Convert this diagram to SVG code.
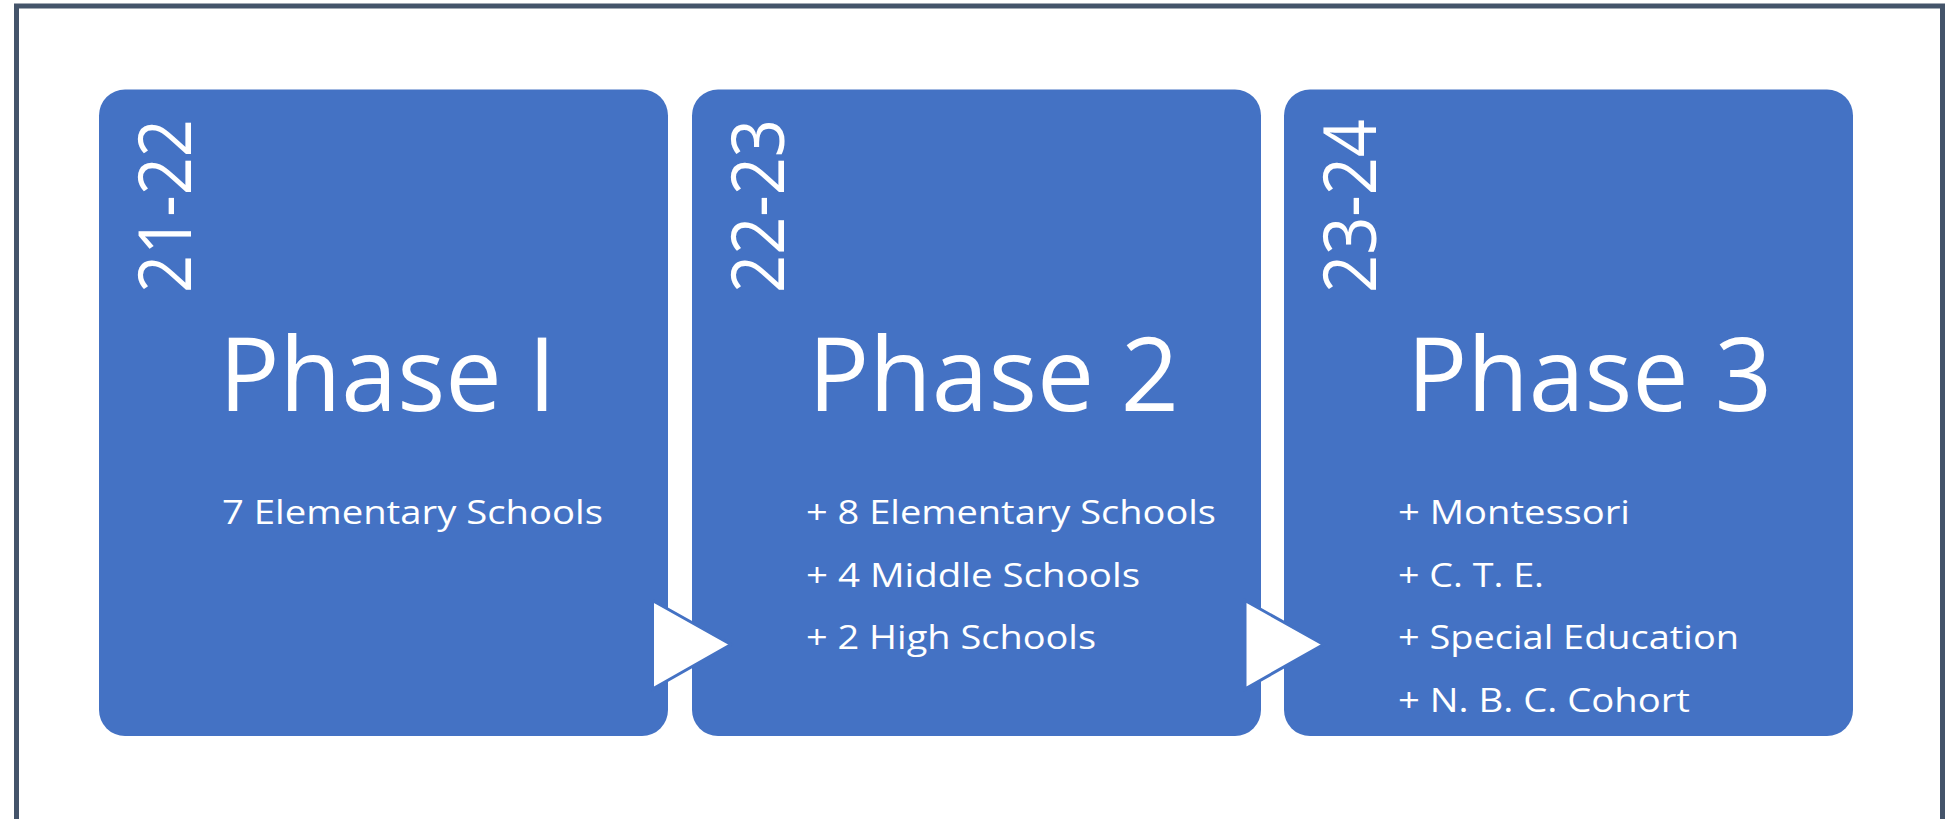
<svg xmlns="http://www.w3.org/2000/svg" width="1956" height="819" viewBox="0 0 1956 819">
  <style>
    .box { fill: #4472c4; }
    .year { fill: #ffffff; font-family: "Open Sans", "Noto Sans", sans-serif; font-size: 74px; }
    .title { fill: #ffffff; font-family: "Open Sans", "Noto Sans", sans-serif; font-size: 103px; text-anchor: middle; }
    .item { fill: #ffffff; font-family: "Open Sans", "Noto Sans", sans-serif; font-size: 32.5px; }
    .arrow { fill: #ffffff; stroke: #4472c4; stroke-width: 3; stroke-linejoin: miter; }
  </style>
  <rect x="0" y="0" width="1956" height="819" fill="#ffffff"/>
  <rect x="16.5" y="6" width="1926" height="900" fill="none" stroke="#44546a" stroke-width="5"/>

  <g id="phase1">
    <rect class="box" x="99" y="89.5" width="569" height="646.5" rx="26" ry="26"/>
    <text class="year" transform="translate(191,293) rotate(-90)" textLength="174" lengthAdjust="spacingAndGlyphs">21-22</text>
    <text class="title" x="387.5" y="411" textLength="337" lengthAdjust="spacingAndGlyphs">Phase I</text>
    <text class="item" x="222" y="524" textLength="381" lengthAdjust="spacingAndGlyphs">7 Elementary Schools</text>
  </g>

  <g id="phase2">
    <rect class="box" x="692" y="89.5" width="569" height="646.5" rx="26" ry="26"/>
    <text class="year" transform="translate(784,293) rotate(-90)" textLength="174" lengthAdjust="spacingAndGlyphs">22-23</text>
    <text class="title" x="993.5" y="411" textLength="371" lengthAdjust="spacingAndGlyphs">Phase 2</text>
    <text class="item" x="806" y="524" textLength="410" lengthAdjust="spacingAndGlyphs">+ 8 Elementary Schools</text>
    <text class="item" x="806" y="586.5" textLength="334" lengthAdjust="spacingAndGlyphs">+ 4 Middle Schools</text>
    <text class="item" x="806" y="649" textLength="290" lengthAdjust="spacingAndGlyphs">+ 2 High Schools</text>
  </g>

  <g id="phase3">
    <rect class="box" x="1284" y="89.5" width="569" height="646.5" rx="26" ry="26"/>
    <text class="year" transform="translate(1376,293) rotate(-90)" textLength="174" lengthAdjust="spacingAndGlyphs">23-24</text>
    <text class="title" x="1589.5" y="411" textLength="365" lengthAdjust="spacingAndGlyphs">Phase 3</text>
    <text class="item" x="1398" y="524" textLength="232" lengthAdjust="spacingAndGlyphs">+ Montessori</text>
    <text class="item" x="1398" y="586.5" textLength="146" lengthAdjust="spacingAndGlyphs">+ C. T. E.</text>
    <text class="item" x="1398" y="649" textLength="341" lengthAdjust="spacingAndGlyphs">+ Special Education</text>
    <text class="item" x="1398" y="712" textLength="292" lengthAdjust="spacingAndGlyphs">+ N. B. C. Cohort</text>
  </g>

  <g id="connectors">
    <polygon class="arrow" points="652.5,600.5 731,644.5 652.5,689"/>
    <polygon class="arrow" points="1245,600.5 1323.5,644.5 1245,689"/>
  </g>
</svg>
